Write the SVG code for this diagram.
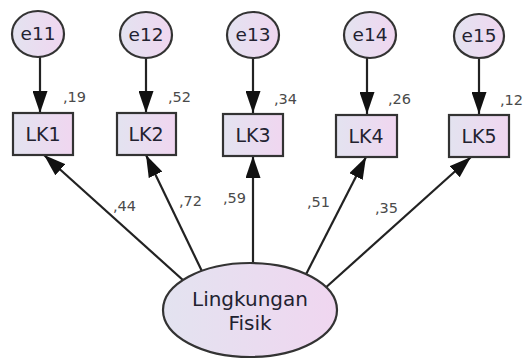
<svg xmlns="http://www.w3.org/2000/svg" width="525" height="364" viewBox="0 0 525 364">
  <defs>
    <linearGradient id="fillg" x1="0" y1="0" x2="1" y2="0">
      <stop offset="0" stop-color="#e3e3f0"/>
      <stop offset="1" stop-color="#f0d6f0"/>
    </linearGradient>
    <marker id="ah" markerUnits="userSpaceOnUse" markerWidth="22" markerHeight="15" refX="22" refY="7.5" orient="auto">
      <path d="M0,0 L22,7.5 L0,15 z" fill="#111"/>
    </marker>
    <style>
      .shape { fill: url(#fillg); stroke: #333; stroke-width: 2.2; }
      .conn { stroke: #222; stroke-width: 2.2; fill: none; marker-end: url(#ah); }
      .lbl { font-family: "DejaVu Sans", sans-serif; fill: #222230; text-anchor: middle; }
      .coef { font-family: "DejaVu Sans", sans-serif; font-size: 14.5px; fill: #4a4a4a; }
    </style>
  </defs>

  <rect width="525" height="364" fill="#fff"/>

  <g id="connectors">
    <line class="conn" x1="40" y1="57" x2="40" y2="113"/>
    <line class="conn" x1="146" y1="57" x2="146" y2="113"/>
    <line class="conn" x1="253" y1="57" x2="253" y2="113"/>
    <line class="conn" x1="367" y1="57" x2="367" y2="114"/>
    <line class="conn" x1="479" y1="57" x2="479" y2="114"/>
    <line class="conn" x1="194" y1="290" x2="44" y2="155"/>
    <line class="conn" x1="211" y1="290" x2="146" y2="155"/>
    <line class="conn" x1="253" y1="290" x2="253" y2="156"/>
    <line class="conn" x1="298" y1="290" x2="366" y2="157"/>
    <line class="conn" x1="323" y1="290" x2="471" y2="157"/>
  </g>

  <g id="coefs">
    <text class="coef" x="63" y="102">,19</text>
    <text class="coef" x="168" y="102">,52</text>
    <text class="coef" x="274" y="104">,34</text>
    <text class="coef" x="388" y="104">,26</text>
    <text class="coef" x="500" y="105">,12</text>
    <text class="coef" x="113" y="211">,44</text>
    <text class="coef" x="179" y="206">,72</text>
    <text class="coef" x="223" y="203">,59</text>
    <text class="coef" x="307" y="207">,51</text>
    <text class="coef" x="375" y="213">,35</text>
  </g>

  <g id="e11"><ellipse class="shape" cx="38" cy="34" rx="26" ry="23"/><text class="lbl" x="38" y="40" font-size="18.5">e11</text></g>
  <g id="e12"><ellipse class="shape" cx="146" cy="35" rx="26" ry="23"/><text class="lbl" x="146" y="41" font-size="18.5">e12</text></g>
  <g id="e13"><ellipse class="shape" cx="253" cy="35" rx="26" ry="23"/><text class="lbl" x="253" y="41" font-size="18.5">e13</text></g>
  <g id="e14"><ellipse class="shape" cx="370" cy="35" rx="26" ry="23"/><text class="lbl" x="370" y="41" font-size="18.5">e14</text></g>
  <g id="e15"><ellipse class="shape" cx="479" cy="36" rx="25" ry="22"/><text class="lbl" x="479" y="42" font-size="18.5">e15</text></g>

  <g id="LK1"><rect class="shape" x="13" y="113" width="60" height="42"/><text class="lbl" x="43" y="141" font-size="19">LK1</text></g>
  <g id="LK2"><rect class="shape" x="117" y="113" width="59" height="42"/><text class="lbl" x="146" y="141" font-size="19">LK2</text></g>
  <g id="LK3"><rect class="shape" x="223" y="114" width="60" height="42"/><text class="lbl" x="253" y="142" font-size="19">LK3</text></g>
  <g id="LK4"><rect class="shape" x="336" y="115" width="61" height="42"/><text class="lbl" x="366" y="143" font-size="19">LK4</text></g>
  <g id="LK5"><rect class="shape" x="449" y="115" width="60" height="42"/><text class="lbl" x="479" y="143" font-size="19">LK5</text></g>

  <g id="lingkungan-fisik">
    <ellipse class="shape" cx="250" cy="310" rx="87" ry="47"/>
    <text class="lbl" x="250" y="306" font-size="20">Lingkungan</text>
    <text class="lbl" x="250" y="330" font-size="20">Fisik</text>
  </g>
</svg>
